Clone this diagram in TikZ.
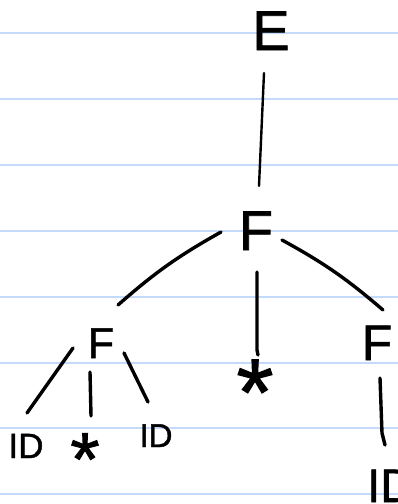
\documentclass[tikz,border=0pt]{standalone}
\usepackage{fontspec}
\setmainfont[FakeBold=1.2]{Liberation Sans}
\usetikzlibrary{calc}
\definecolor{rule}{RGB}{196,218,250}
\tikzset{
  lbl/.style={inner sep=0pt, anchor=base, text=black},
  pen/.style={line width=3.4pt, line cap=round, line join=round, black},
  thinpen/.style={line width=2.4pt, line cap=round, black},
}
\newcommand{\sz}[1]{\fontsize{#1}{#1}\selectfont}
\begin{document}
\begin{tikzpicture}[x=1pt, y=-1pt]
  % page and notebook ruling
  \fill[white] (0,0) rectangle (398,504);
  \useasboundingbox (0,0) rectangle (398,504);
  \foreach \k in {0,...,7}
    \draw[rule, line width=2pt] (0,{33+65.9*\k}) -- (398,{33+65.9*\k});

  % tree labels (baseline placed)
  \node[lbl] (E)  at (271,50)  {\sz{56}E};
  \node[lbl] (F0) at (256,250) {\sz{56}F};
  \node[lbl] (F1) at (101,358) {\sz{43}F};
  \node[lbl] (S0) at (255,425) {\sz{95}*};
  \node[lbl] (F2) at (377,360) {\sz{50}F};
  \node[lbl] (I1) at (26,458)  {\sz{35}ID};
  \node[lbl] (S1) at (85,485)  {\sz{75}*};
  \node[lbl] (I2) at (156,447) {\sz{33}ID};
  \node[lbl, anchor=base west] (I3) at (367,502) {\sz{47}ID};

  % connectors, anchored on the labels' baselines
  \draw[thinpen] ($(E.base)+(-7,23)$) -- ($(F0.base)+(3,-64)$);
  \draw[pen] ($(F0.base)+(-35,-18)$) to[bend right=6] ($(F1.base)+(17,-53)$);
  \draw[pen] ($(F0.base)+(1,22)$) -- ($(F0.base)+(1,100)$) -- ($(F0.base)+(2,105)$);
  \draw[pen] ($(F0.base)+(26,-10)$) to[bend left=6] ($(F2.base)+(6,-50)$);
  \draw[pen] ($(F1.base)+(-28,-10)$) -- ($(I1.base)+(1,-45)$);
  \draw[pen] ($(F1.base)+(-11,14)$) -- ($(I1.base)+(65,-42)$);
  \draw[pen] ($(F1.base)+(23,-5)$) -- ($(I2.base)+(-8,-45)$);
  \draw[pen] ($(F2.base)+(3,18)$) -- ($(F2.base)+(5,73)$) -- ($(F2.base)+(8,85)$);
\end{tikzpicture}
\end{document}
